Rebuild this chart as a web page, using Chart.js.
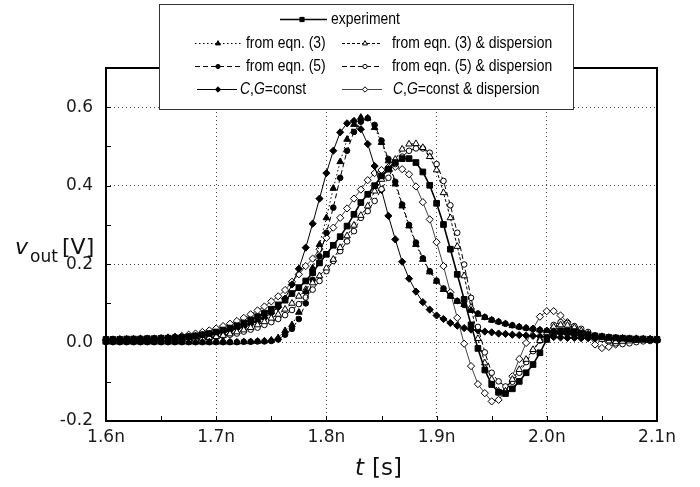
<!DOCTYPE html>
<html>
<head>
<meta charset="utf-8">
<script src="https://cdn.jsdelivr.net/npm/chart.js@4.4.0/dist/chart.umd.min.js"></script>
<style>
  html, body { margin: 0; padding: 0; background: #fff; }
  #wrap { width: 700px; height: 487px; }
</style>
</head>
<body>
<div id="wrap"><canvas id="pulseChart" width="700" height="487"></canvas></div>
<script>
'use strict';

// sample times [ns]
var times = [
  1.6, 1.60625, 1.6125, 1.61875, 1.625, 1.63125, 1.6375, 1.64375,
  1.65, 1.65625, 1.6625, 1.66875, 1.675, 1.68125, 1.6875, 1.69375,
  1.7, 1.70625, 1.7125, 1.71875, 1.725, 1.73125, 1.7375, 1.74375,
  1.75, 1.75625, 1.7625, 1.76875, 1.775, 1.78125, 1.7875, 1.79375,
  1.8, 1.80625, 1.8125, 1.81875, 1.825, 1.83125, 1.8375, 1.84375,
  1.85, 1.85625, 1.8625, 1.86875, 1.875, 1.88125, 1.8875, 1.89375,
  1.9, 1.90625, 1.9125, 1.91875, 1.925, 1.93125, 1.9375, 1.94375,
  1.95, 1.95625, 1.9625, 1.96875, 1.975, 1.98125, 1.9875, 1.99375,
  2.0, 2.00625, 2.0125, 2.01875, 2.025, 2.03125, 2.0375, 2.04375,
  2.05, 2.05625, 2.0625, 2.06875, 2.075, 2.08125, 2.0875, 2.09375,
  2.1
];

var experiment = [
  0.008, 0.008, 0.008, 0.009, 0.009, 0.009, 0.010, 0.010,
  0.011, 0.011, 0.012, 0.013, 0.015, 0.017, 0.020, 0.023,
  0.027, 0.032, 0.037, 0.043, 0.050, 0.058, 0.066, 0.075,
  0.085, 0.096, 0.108, 0.125, 0.140, 0.157, 0.178, 0.203,
  0.225, 0.248, 0.270, 0.297, 0.327, 0.357, 0.378, 0.400,
  0.425, 0.442, 0.459, 0.469, 0.469, 0.459, 0.435, 0.401,
  0.355, 0.301, 0.238, 0.174, 0.110, 0.045, -0.015, -0.070,
  -0.107, -0.127, -0.130, -0.118, -0.099, -0.077, -0.056, -0.026,
  0.008, 0.025, 0.030, 0.030, 0.028, 0.024, 0.020, 0.017,
  0.015, 0.013, 0.012, 0.011, 0.010, 0.009, 0.009, 0.008,
  0.008
];

var eqn3 = [
  0.001, 0.001, 0.001, 0.001, 0.001, 0.001, 0.001, 0.001,
  0.001, 0.001, 0.001, 0.001, 0.001, 0.001, 0.001, 0.001,
  0.001, 0.001, 0.001, 0.001, 0.002, 0.002, 0.003, 0.004,
  0.006, 0.012, 0.030, 0.045, 0.077, 0.130, 0.190, 0.250,
  0.318, 0.393, 0.461, 0.518, 0.556, 0.574, 0.572, 0.548,
  0.510, 0.463, 0.404, 0.348, 0.297, 0.250, 0.212, 0.180,
  0.156, 0.135, 0.118, 0.105, 0.097, 0.082, 0.072, 0.064,
  0.057, 0.053, 0.048, 0.043, 0.040, 0.037, 0.035, 0.032,
  0.030, 0.028, 0.026, 0.024, 0.022, 0.020, 0.018, 0.016,
  0.015, 0.013, 0.012, 0.011, 0.010, 0.010, 0.009, 0.009,
  0.008
];

var eqn3Disp = [
  0.005, 0.005, 0.005, 0.005, 0.005, 0.005, 0.006, 0.006,
  0.006, 0.007, 0.007, 0.008, 0.008, 0.009, 0.011, 0.013,
  0.015, 0.018, 0.022, 0.027, 0.032, 0.038, 0.045, 0.053,
  0.062, 0.072, 0.085, 0.100, 0.118, 0.135, 0.152, 0.170,
  0.190, 0.212, 0.242, 0.272, 0.299, 0.324, 0.348, 0.386,
  0.416, 0.442, 0.467, 0.493, 0.506, 0.507, 0.497, 0.474,
  0.440, 0.382, 0.318, 0.245, 0.170, 0.090, 0.010, -0.052,
  -0.094, -0.124, -0.124, -0.094, -0.069, -0.043, -0.018, 0.005,
  0.025, 0.040, 0.045, 0.044, 0.038, 0.030, 0.022, 0.015,
  0.008, 0.004, 0.002, 0.003, 0.004, 0.005, 0.006, 0.006,
  0.006
];

var eqn5 = [
  0.001, 0.001, 0.001, 0.001, 0.001, 0.001, 0.001, 0.001,
  0.001, 0.001, 0.001, 0.001, 0.001, 0.001, 0.001, 0.001,
  0.001, 0.001, 0.001, 0.001, 0.002, 0.002, 0.003, 0.003,
  0.004, 0.008, 0.020, 0.035, 0.060, 0.100, 0.160, 0.220,
  0.280, 0.344, 0.420, 0.489, 0.537, 0.563, 0.572, 0.555,
  0.515, 0.468, 0.410, 0.352, 0.300, 0.255, 0.215, 0.182,
  0.158, 0.138, 0.120, 0.106, 0.096, 0.084, 0.074, 0.065,
  0.058, 0.053, 0.048, 0.044, 0.040, 0.037, 0.035, 0.032,
  0.030, 0.028, 0.026, 0.024, 0.022, 0.020, 0.018, 0.016,
  0.015, 0.013, 0.012, 0.011, 0.010, 0.010, 0.009, 0.009,
  0.008
];

var eqn5Disp = [
  0.004, 0.004, 0.004, 0.004, 0.004, 0.005, 0.005, 0.005,
  0.005, 0.006, 0.006, 0.007, 0.008, 0.009, 0.010, 0.012,
  0.014, 0.017, 0.020, 0.023, 0.028, 0.033, 0.038, 0.045,
  0.052, 0.060, 0.070, 0.083, 0.098, 0.115, 0.135, 0.157,
  0.182, 0.208, 0.233, 0.258, 0.284, 0.318, 0.335, 0.361,
  0.391, 0.420, 0.455, 0.474, 0.489, 0.495, 0.495, 0.484,
  0.455, 0.412, 0.350, 0.280, 0.199, 0.114, 0.040, -0.025,
  -0.077, -0.099, -0.112, -0.100, -0.077, -0.050, -0.022, 0.005,
  0.030, 0.045, 0.052, 0.050, 0.042, 0.035, 0.027, 0.018,
  0.010, 0.003, -0.002, -0.004, -0.002, 0.001, 0.003, 0.004,
  0.005
];

var cgConst = [
  0.008, 0.008, 0.009, 0.009, 0.009, 0.010, 0.010, 0.010,
  0.011, 0.012, 0.013, 0.014, 0.015, 0.017, 0.019, 0.021,
  0.024, 0.027, 0.031, 0.036, 0.041, 0.047, 0.054, 0.063,
  0.075, 0.090, 0.112, 0.148, 0.188, 0.242, 0.303, 0.367,
  0.432, 0.489, 0.536, 0.559, 0.565, 0.544, 0.506, 0.450,
  0.389, 0.323, 0.263, 0.206, 0.163, 0.130, 0.103, 0.084,
  0.069, 0.060, 0.050, 0.043, 0.037, 0.033, 0.031, 0.028,
  0.026, 0.023, 0.022, 0.020, 0.019, 0.018, 0.017, 0.016,
  0.015, 0.014, 0.013, 0.012, 0.012, 0.011, 0.011, 0.010,
  0.010, 0.010, 0.009, 0.009, 0.009, 0.009, 0.008, 0.008,
  0.008
];

var cgConstDisp = [
  0.006, 0.006, 0.007, 0.007, 0.008, 0.008, 0.009, 0.010,
  0.011, 0.013, 0.015, 0.017, 0.020, 0.023, 0.027, 0.031,
  0.036, 0.042, 0.048, 0.055, 0.063, 0.072, 0.082, 0.092,
  0.105, 0.118, 0.134, 0.155, 0.174, 0.195, 0.214, 0.238,
  0.267, 0.293, 0.318, 0.342, 0.367, 0.390, 0.414, 0.432,
  0.440, 0.447, 0.448, 0.442, 0.429, 0.398, 0.358, 0.314,
  0.256, 0.195, 0.128, 0.063, -0.003, -0.060, -0.106, -0.129,
  -0.150, -0.146, -0.124, -0.086, -0.042, -0.001, 0.035, 0.066,
  0.080, 0.080, 0.069, 0.052, 0.040, 0.029, 0.018, -0.005,
  -0.014, -0.011, -0.005, 0.003, 0.005, 0.006, 0.006, 0.006,
  0.006
];

var seriesNames = [
  'experiment',
  'from eqn. (3)',
  'from eqn. (3) & dispersion',
  'from eqn. (5)',
  'from eqn. (5) & dispersion',
  'C,G=const',
  'C,G=const & dispersion'
];

var xTickValues = [1.6, 1.7, 1.8, 1.9, 2.0, 2.1];
var yTickValues = [-0.2, 0.0, 0.2, 0.4, 0.6];
var xMinorTicks = [1.65, 1.7, 1.75, 1.8, 1.85, 1.9, 1.95, 2.0, 2.05];
var yMinorTicks = [-0.1, 0.0, 0.1, 0.2, 0.3, 0.4, 0.5, 0.6];

function pts(values) {
  return times.map(function (t, i) { return { x: t, y: values[i] }; });
}

function makeSet(label, values, style, filled, radius, dash, width, color) {
  return {
    label: label,
    data: pts(values),
    borderColor: color,
    borderWidth: width,
    borderDash: dash,
    backgroundColor: color,
    pointStyle: style,
    pointRadius: radius,
    pointBorderColor: '#000',
    pointBackgroundColor: filled ? '#000' : '#fff',
    pointBorderWidth: 1,
    tension: 0,
    fill: false,
    clip: 6
  };
}

var datasets = [
  makeSet(seriesNames[0], experiment, 'rect', true, 4, [], 1.6, '#000'),
  makeSet(seriesNames[1], eqn3, 'triangle', true, 3.8, [1.5, 2.5], 1, '#000'),
  makeSet(seriesNames[2], eqn3Disp, 'triangle', false, 3.8, [3, 2], 1, '#000'),
  makeSet(seriesNames[3], eqn5, 'circle', true, 2.8, [5, 3], 1, '#000'),
  makeSet(seriesNames[4], eqn5Disp, 'circle', false, 2.8, [5, 3], 1, '#000'),
  makeSet(seriesNames[5], cgConst, 'rectRot', true, 3.6, [], 1, '#000'),
  makeSet(seriesNames[6], cgConstDisp, 'rectRot', false, 3.6, [], 1, '#444')
];

// legend placement: [lineStart, lineEnd, markerX, textX, rowY]
var legendSpots = [
  [280, 327, 302, 331, 19],
  [195, 242, 218, 246, 43],
  [342, 382, 365, 392, 43],
  [195, 242, 218, 246, 66],
  [342, 382, 365, 392, 66],
  [197, 237, 218, 240, 89],
  [342, 382, 365, 393, 89]
];

function drawMarker(ctx, style, x, y, r, filled) {
  ctx.beginPath();
  if (style === 'rect') {
    var s = r * Math.SQRT1_2;
    ctx.rect(x - s, y - s, 2 * s, 2 * s);
  } else if (style === 'rectRot') {
    ctx.moveTo(x, y - r); ctx.lineTo(x + r, y); ctx.lineTo(x, y + r); ctx.lineTo(x - r, y);
    ctx.closePath();
  } else if (style === 'triangle') {
    ctx.moveTo(x, y - r); ctx.lineTo(x + r * 0.866, y + r * 0.5); ctx.lineTo(x - r * 0.866, y + r * 0.5);
    ctx.closePath();
  } else {
    ctx.arc(x, y, r, 0, Math.PI * 2);
  }
  ctx.fillStyle = filled ? '#000' : '#fff';
  ctx.fill();
  ctx.setLineDash([]);
  ctx.lineWidth = 1;
  ctx.strokeStyle = '#000';
  ctx.stroke();
}

function drawRich(ctx, text, x, y, size) {
  var parts = [];
  if (text.indexOf('C,G') === 0) {
    parts = [['C', true], [',', false], ['G', true], [text.slice(3), false]];
  } else {
    parts = [[text, false]];
  }
  ctx.save();
  ctx.translate(x, y);
  ctx.scale(0.87, 1);
  var cx = 0;
  parts.forEach(function (p) {
    ctx.font = (p[1] ? 'italic ' : '') + size + 'px "Liberation Sans"';
    ctx.fillText(p[0], cx, 0);
    cx += ctx.measureText(p[0]).width;
  });
  ctx.restore();
}

var decorPlugin = {
  id: 'decor',
  afterDatasetsDraw: function (chart) {
    var ctx = chart.ctx, a = chart.chartArea;
    var xs = chart.scales.x, ys = chart.scales.y;
    ctx.save();
    ctx.strokeStyle = '#000';
    ctx.lineWidth = 1;
    ctx.setLineDash([]);
    ctx.beginPath();
    xMinorTicks.forEach(function (v) {
      var px = Math.round(xs.getPixelForValue(v)) + 0.5;
      ctx.moveTo(px, a.bottom); ctx.lineTo(px, a.bottom - 5);
    });
    yMinorTicks.forEach(function (v) {
      var py = Math.round(ys.getPixelForValue(v)) + 0.5;
      ctx.moveTo(a.left, py); ctx.lineTo(a.left + 5, py);
    });
    ctx.stroke();
    ctx.lineWidth = 2;
    ctx.strokeRect(a.left, a.top, a.right - a.left, a.bottom - a.top);
    ctx.restore();
  },
  afterDraw: function (chart) {
    var ctx = chart.ctx;
    ctx.save();

    // legend box
    ctx.fillStyle = '#fff';
    ctx.fillRect(159, 4, 414, 105);
    ctx.strokeStyle = '#333';
    ctx.lineWidth = 1;
    ctx.strokeRect(159.5, 4.5, 414, 105);

    chart.data.datasets.forEach(function (ds, i) {
      var s = legendSpots[i];
      ctx.beginPath();
      ctx.setLineDash(ds.borderDash);
      ctx.strokeStyle = ds.borderColor;
      ctx.lineWidth = ds.borderWidth;
      ctx.moveTo(s[0], s[4] + 0.5);
      ctx.lineTo(s[1], s[4] + 0.5);
      ctx.stroke();
      drawMarker(ctx, ds.pointStyle, s[2], s[4] + 0.5, ds.pointRadius * 0.75, ds.pointBackgroundColor === '#000');
      ctx.fillStyle = '#000';
      ctx.textBaseline = 'middle';
      drawRich(ctx, ds.label, s[3], s[4] + 1, 16);
    });

    // axis titles
    ctx.fillStyle = '#111';
    ctx.textBaseline = 'alphabetic';
    ctx.font = 'italic 22px "DejaVu Sans"';
    ctx.fillText('v', 15, 254);
    ctx.font = '17px "DejaVu Sans"';
    ctx.fillText('out', 30, 262);
    ctx.font = '22px "DejaVu Sans"';
    ctx.fillText('[V]', 62, 254);

    ctx.font = 'italic 23px "DejaVu Sans"';
    ctx.fillText('t', 355, 475);
    ctx.font = '23px "DejaVu Sans"';
    ctx.fillText('[s]', 372, 475);
    ctx.restore();
  }
};

Chart.defaults.font.family = '"DejaVu Sans"';

var pulseChart = new Chart(document.getElementById('pulseChart'), {
  type: 'line',
  data: { datasets: datasets },
  options: {
    responsive: false,
    animation: false,
    devicePixelRatio: 1,
    layout: { padding: { top: 68, right: 43, left: 0, bottom: 0 } },
    plugins: {
      legend: { display: false },
      tooltip: { enabled: false }
    },
    scales: {
      x: {
        type: 'linear',
        min: 1.6,
        max: 2.1,
        afterBuildTicks: function (scale) {
          scale.ticks = xTickValues.map(function (v) { return { value: v }; });
        },
        afterFit: function (scale) { scale.height = 66; },
        ticks: {
          autoSkip: false,
          maxRotation: 0,
          padding: 6,
          color: '#1a1a1a',
          font: { size: 17 },
          callback: function (v) { return v.toFixed(1) + 'n'; }
        },
        grid: { color: '#444', lineWidth: 1, drawTicks: false },
        border: { display: false, dash: [1, 3] }
      },
      y: {
        type: 'linear',
        min: -0.2,
        max: 0.7,
        afterBuildTicks: function (scale) {
          scale.ticks = yTickValues.map(function (v) { return { value: v }; });
        },
        afterFit: function (scale) { scale.width = 106; },
        ticks: {
          padding: 13,
          color: '#1a1a1a',
          font: { size: 17 },
          callback: function (v) { return v.toFixed(1); }
        },
        grid: { color: '#444', lineWidth: 1, drawTicks: false },
        border: { display: false, dash: [1, 3] }
      }
    }
  },
  plugins: [decorPlugin]
});
</script>
</body>
</html>
